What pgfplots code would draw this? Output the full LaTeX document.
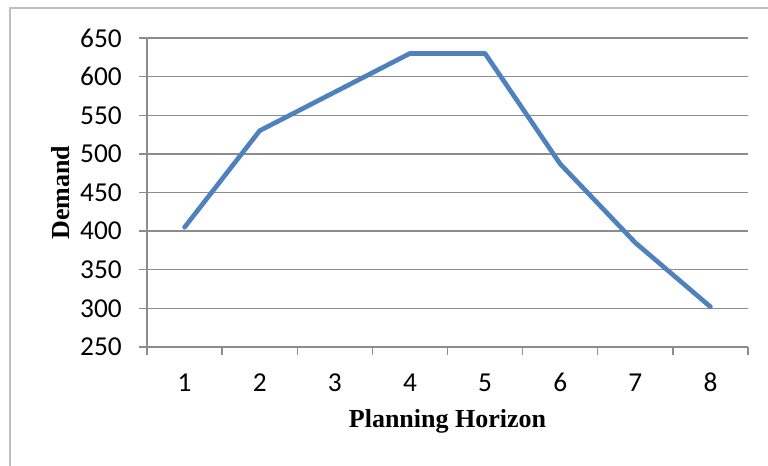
\documentclass[border=0pt]{standalone}
\usepackage{pgfplots}
\pgfplotsset{compat=1.18}
\usepackage{fontspec}
\setmainfont{Carlito}
\newfontfamily\labelfont{Liberation Serif}
\definecolor{seriesblue}{HTML}{4F81BD}
\definecolor{gridgray}{HTML}{8C8C8C}
\definecolor{framegray}{HTML}{C0C0C0}

\begin{document}
\begin{tikzpicture}
% page area and chart frame
\useasboundingbox (0,0) rectangle (576pt,349.5pt);
\fill[white] (0,0) rectangle (576pt,349.5pt);
\draw[framegray, line width=1.5pt] (7.5pt,-5pt) -- (7.5pt,343.5pt) -- (590pt,343.5pt);
\begin{axis}[
  at={(110.25pt,89.25pt)}, anchor=south west,
  scale only axis, width=450.75pt, height=231.75pt,
  xmin=0.5, xmax=8.5, ymin=250, ymax=650,
  axis lines*=left,
  axis line style={gridgray, line width=1.1pt},
  tick align=outside,
  major tick length=6pt,
  tick style={gridgray, line width=1.1pt},
  xtick={0.5,1.5,...,8.5},
  xticklabels={},
  extra x ticks={1,2,3,4,5,6,7,8},
  extra x tick labels={1,2,3,4,5,6,7,8},
  extra x tick style={
    major tick length=0pt,
    xticklabel style={anchor=base, inner sep=0pt, yshift=-33.5pt},
  },
  ytick={250,300,...,650},
  yticklabel style={anchor=east, inner sep=0pt, xshift=-12.75pt},
  ymajorgrids,
  major grid style={gridgray, line width=1.1pt},
  ticklabel style={font=\fontsize{20.5}{23}\selectfont},
  /pgf/number format/assume math mode=true,
  xlabel={Planning Horizon},
  ylabel={Demand},
  label style={font=\labelfont\bfseries\fontsize{19.5}{22}\selectfont},
  xlabel style={at={(axis description cs:0.5,-0.262)}, anchor=base},
  ylabel style={at={(axis description cs:-0.1293,0.5)}, anchor=base},
]
\addplot[seriesblue, line width=3.5pt, line cap=round, line join=round]
  coordinates {(1,405) (2,530) (3,580) (4,630) (5,630) (6,487) (7,385) (8,302)};
\end{axis}
\end{tikzpicture}
\end{document}
